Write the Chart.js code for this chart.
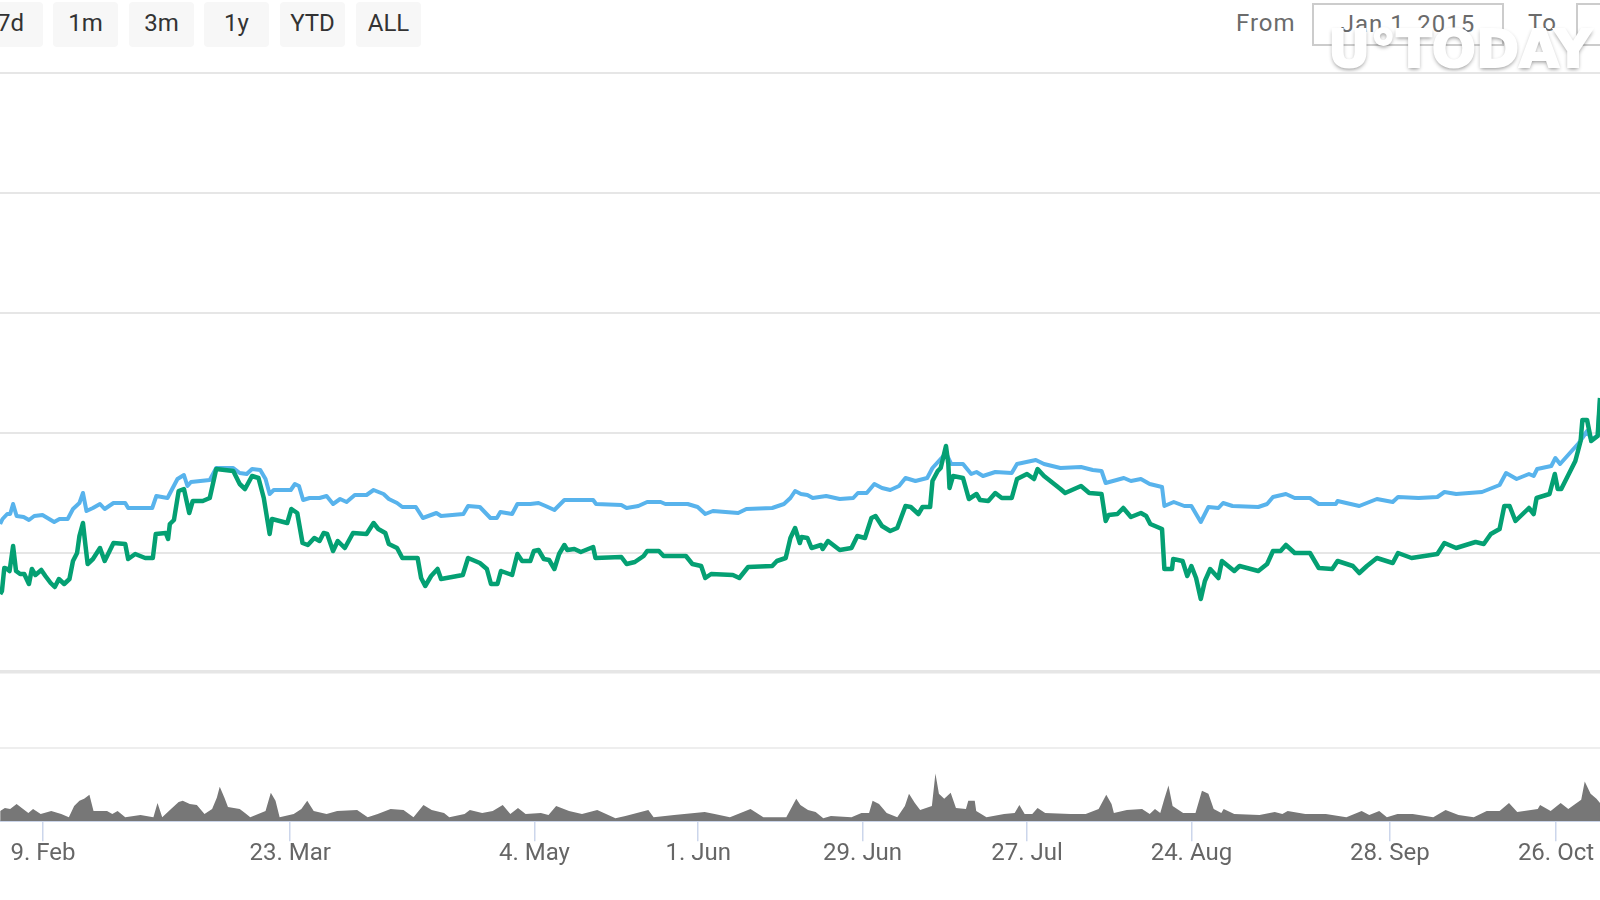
<!DOCTYPE html>
<html>
<head>
<meta charset="utf-8">
<title>chart</title>
<script src="https://cdn.jsdelivr.net/npm/chart.js@4"></script>
<style>
    body { margin: 0; background: #fff; font-family: Roboto, sans-serif; overflow: hidden; }
    canvas { position: absolute; left: 0; }
    #chartPreco { top: 61px; }
    #chartVolume { top: 736px; }
    .btn { position: absolute; top: 2px; width: 65px; height: 45px; line-height: 43px; background: #f7f7f7;
           border-radius: 4px; text-align: center; font-size: 24px; color: #333; }
    .lbl { position: absolute; top: 4px; font-size: 24px; line-height: 38px; color: #6b6b6b; letter-spacing: 1px; }
    .box { position: absolute; top: 3px; height: 39px; border: 2px solid #ccc; font-size: 24px; line-height: 38px;
           color: #6b6b6b; text-align: center; letter-spacing: 1px; }
    #marca { position: absolute; left: 1328px; top: 19px; font: bold 52px/60px "DejaVu Sans", sans-serif; color: #fff;
             -webkit-text-stroke: 2px #fff; text-shadow: 0 2px 4px rgba(0,0,0,.45); white-space: nowrap; }
</style>
</head>
<body>
<div class="btn" style="left:-22px">7d</div>
<div class="btn" style="left:53px">1m</div>
<div class="btn" style="left:129px">3m</div>
<div class="btn" style="left:204px">1y</div>
<div class="btn" style="left:280px">YTD</div>
<div class="btn" style="left:356px">ALL</div>
<div class="lbl" style="left:1236px">From</div>
<div class="box" style="left:1312px;width:188px">Jan 1, 2015</div>
<div class="lbl" style="left:1528px">To</div>
<div class="box" style="left:1576px;width:60px"></div>
<div id="marca">U°TODAY</div>
<canvas id="chartPreco" width="1600" height="624"></canvas>
<canvas id="chartVolume" width="1600" height="130"></canvas>
<script>
const tickDias = [40, 82.1, 123.7, 151.6, 179.6, 207.6, 235.6, 269.4, 297.7];
const tickTextos = ["9. Feb", "23. Mar", "4. May", "1. Jun", "29. Jun", "27. Jul", "24. Aug", "28. Sep", "26. Oct"];

const verdeDias = [32.7,33.0,33.4,33.9,34.3,34.9,35.4,36.1,36.8,37.6,38.1,38.7,39.7,40.4,41.3,42.0,42.7,43.6,44.5,45.1,45.8,46.2,46.8,47.2,47.6,48.5,49.7,50.5,52.0,54.0,54.5,55.7,57.4,58.7,59.2,60.9,61.3,61.6,62.3,63.1,64.0,64.9,65.5,67.2,68.4,69.5,72.4,73.5,74.4,75.6,76.7,77.6,78.6,79.0,81.6,82.3,83.3,84.2,85.1,86.2,87.1,87.8,88.4,89.4,90.2,91.4,92.8,95.1,96.3,97.1,98.3,98.9,100.3,101.2,103.8,104.4,105.1,106.1,107.2,107.8,111.5,112.4,114.4,115.6,116.3,117.4,118.0,119.9,120.8,121.6,
    123.0,123.6,124.4,125.3,126.2,127.1,127.9,128.8,129.3,130.5,131.6,133.7,134.1,138.5,139.4,140.8,142.3,142.9,144.9,145.7,149.5,150.6,152.1,152.8,153.8,157.5,158.6,160.1,164.2,165.0,166.5,167.3,168.1,168.9,169.2,170.2,170.9,172.5,172.8,173.7,175.7,177.7,178.7,180.0,181.1,181.8,182.9,184.3,185.5,186.9,187.8,189.1,189.8,191.1,191.5,192.4,192.9,193.8,194.2,194.4,195.0,196.7,197.7,199.0,199.6,201.0,202.2,203.3,205.0,205.9,207.6,208.8,209.4,210.5,213.3,
    214.1,216.8,218.2,220.3,221.0,221.5,223.0,224.0,225.3,227.0,227.9,228.6,230.6,231.0,232.3,232.5,234.1,234.9,235.6,236.4,237.2,237.9,238.8,240.2,240.8,242.9,243.8,247.0,248.5,249.5,250.8,251.7,253.2,255.8,257.3,259.6,260.5,263.1,264.2,265.5,267.2,269.9,270.8,273.1,277.5,278.7,280.7,284.0,285.4,286.6,288.1,288.9,289.8,290.8,293.1,293.9,294.4,296.6,297.5,298.0,298.6,301.0,301.9,302.2,303.0,303.7,304.8,305.2];
const verdeValores = [79,82,105,104,102,127,102,99,99,89,104,98,103,97,90,86,94,89,94,112,120,137,150,129,109,114,125,112,130,129,114,119,115,115,139,140,134,149,153,182,184,160,172,172,175,204,202,189,184,197,195,175,139,154,150,164,160,130,128,135,132,140,139,122,132,125,140,139,150,144,140,129,125,115,115,95,87,97,104,94,98,115,110,104,89,89,102,98,119,112,
    112,122,123,114,113,104,119,128,123,124,121,126,115,116,109,111,117,122,122,117,117,109,107,95,99,98,95,106,107,112,115,135,145,130,136,135,125,128,124,132,123,125,137,135,155,157,147,142,145,167,166,159,166,166,192,202,205,227,209,185,197,195,174,179,173,172,180,175,175,194,199,194,204,197,184,
    180,187,180,179,152,158,159,165,156,160,157,149,144,104,104,114,112,97,107,95,74,92,104,95,112,102,107,102,109,122,122,128,120,120,105,104,112,107,100,107,115,110,120,115,119,130,125,131,129,139,144,167,167,152,165,159,175,179,199,184,184,212,232,253,253,232,237,275];

const azulDias = [32.7,33.1,33.9,34.4,34.9,35.5,36.7,37.6,38.5,39.9,41.9,42.8,44.2,45.1,46.2,46.8,47.4,48.5,49.7,50.5,52.0,54.0,54.5,58.6,59.3,61.2,62.0,62.9,64.0,64.6,65.2,68.4,69.5,72.4,73.5,74.7,75.6,77.0,77.9,78.6,79.3,82.2,82.9,83.6,84.3,85.4,87.1,88.3,89.4,90.6,91.7,93.1,95.1,96.3,98.0,98.9,100.3,101.2,103.5,104.7,107.0,107.8,111.6,112.4,114.4,116.2,117.3,117.9,119.9,120.8,
    123.0,124.4,125.6,127.1,128.8,133.7,134.2,138.5,139.4,141.4,142.9,145.2,146.0,149.8,151.5,152.8,154.1,158.4,159.8,164.2,166.2,167.3,168.1,169.1,170.2,171.1,173.4,175.7,178.0,178.8,180.3,181.6,182.9,184.3,185.8,186.9,188.6,190.6,191.5,193.2,193.8,194.7,196.7,198.1,199.0,200.1,202.2,205.0,205.9,209.1,210.5,213.3,
    216.8,218.8,220.3,221.0,224.1,225.3,227.0,228.5,230.6,231.0,232.6,234.4,235.6,237.2,238.5,240.2,241.0,242.6,247.0,248.5,249.5,251.7,253.2,255.8,257.3,260.2,260.5,264.2,267.2,269.9,270.8,274.3,277.5,278.7,280.7,285.1,288.1,289.2,291.0,293.1,293.9,294.5,296.9,297.6,298.4,301.6,303.0,303.7,304.8,305.2];
const azulValores = [149,154,159,159,169,157,156,153,157,158,151,154,154,164,170,180,162,165,169,164,170,170,165,165,177,175,184,194,198,187,191,193,205,205,200,199,204,203,194,179,183,183,189,187,173,175,175,177,169,174,171,178,178,183,179,174,170,166,166,155,160,157,159,167,166,155,155,161,159,169,
    169,170,167,163,173,173,169,168,165,167,171,171,169,169,166,159,162,160,164,165,169,175,182,179,178,175,177,174,175,180,180,189,185,183,187,195,192,195,205,216,220,209,209,199,201,197,201,200,209,213,209,205,
    206,203,202,190,195,192,194,189,186,167,171,167,167,151,166,165,170,167,166,169,176,179,175,175,169,169,172,167,174,171,176,175,176,181,179,181,188,200,194,199,197,204,207,215,209,230,242,234,237,275];

const volumeDias = [32.7,33.5,34.4,35.5,36.6,37.5,38.3,39.6,41.4,43.1,44.4,45.3,46.2,47.0,47.9,48.6,50.9,51.8,52.7,54.0,56.6,58.8,59.5,60.3,61.8,63.1,63.8,65.0,66.2,67.5,68.8,69.6,70.1,70.9,71.5,73.5,74.4,75.3,77.9,78.8,79.6,80.3,82.7,84.0,85.0,86.1,88.3,90.1,93.5,95.3,97.0,99.2,101.4,103.1,104.8,106.2,108.3,109.2,111.8,112.7,114.8,116.6,118.3,119.6,120.9,122.2,124.8,126.1,127.4,129.6,131.8,134.4,137.5,139.2,143.1,144.0,147.5,152.7,154.4,157.0,160.5,162.7,166.6,168.3,
    169.0,170.3,171.6,172.9,174.2,177.7,179.4,180.7,181.3,182.4,183.7,185.5,186.8,187.5,188.5,189.4,191.4,192.0,192.6,193.5,194.6,195.5,197.2,197.6,198.7,198.95,200.7,203.7,205.5,206.3,207.2,208.5,209.4,210.7,215.0,217.6,219.8,221.1,222.0,222.4,224.6,227.2,228.5,229.4,230.3,231.0,231.7,232.4,234.2,236.3,237.4,238.5,239.4,240.7,241.1,242.9,247.2,249.8,251.1,252.0,255.0,258.5,262.0,264.6,265.9,267.6,268.9,270.7,273.3,276.8,278.9,281.1,283.7,285.9,288.1,289.7,291.1,294.6,295.0,296.8,298.5,299.8,302.0,302.6,303.6,304.6,305.2];
const volumeValores = [10,13,12,17,12,8,12,7,10,7,4,15,20,22,26,10,10,7,10,4,6,4,18,4,12,19,20,17,16,7,12,23,34,23,14,12,8,4,10,28,20,4,7,12,20,10,7,10,11,4,7,12,11,4,16,11,8,4,7,11,8,10,16,7,13,7,8,6,15,10,7,11,3,5,11,4,6,9,7,4,12,4,4,22,
    16,11,9,3,5,4,8,8,20,17,8,4,15,27,18,11,15,47,27,22,28,13,12,20,20,10,4,7,8,16,7,7,13,8,7,7,12,26,17,8,11,12,7,12,8,22,35,15,8,8,30,27,12,8,12,7,6,9,7,10,7,7,4,10,6,10,4,7,7,4,11,6,4,10,10,18,9,12,16,10,18,12,21,39,27,22,18];

const xMin = 32.67;
const xMax = 305.2;

function pares(xs, ys) {
    return xs.map((x, i) => ({ x: x, y: ys[i] }));
}

new Chart(document.getElementById("chartPreco"), {
    type: "line",
    data: {
        datasets: [
            { data: pares(verdeDias, verdeValores), borderColor: "#04a073", borderWidth: 4.5, borderJoinStyle: "round", pointRadius: 0, tension: 0 },
            { data: pares(azulDias, azulValores), borderColor: "#58b3ec", borderWidth: 4, borderJoinStyle: "round", pointRadius: 0, tension: 0 }
        ]
    },
    options: {
        responsive: false,
        animation: false,
        layout: { padding: { top: 12, bottom: 12, left: 0, right: 0 } },
        plugins: { legend: { display: false }, tooltip: { enabled: false } },
        scales: {
            x: { type: "linear", min: xMin, max: xMax, display: false },
            y: {
                min: 0,
                max: 600,
                afterBuildTicks: axis => { axis.ticks = [1, 120, 240, 360, 480, 600].map(v => ({ value: v })); },
                ticks: { display: false },
                border: { display: false },
                grid: {
                    drawTicks: false,
                    color: "#e6e6e6",
                    lineWidth: ctx => (ctx.tick && ctx.tick.value === 1 ? 3.5 : 2)
                }
            }
        }
    }
});

new Chart(document.getElementById("chartVolume"), {
    type: "line",
    data: {
        datasets: [
            { data: pares(volumeDias, volumeValores), borderWidth: 0, backgroundColor: "#777777", fill: "origin", pointRadius: 0, tension: 0 }
        ]
    },
    options: {
        responsive: false,
        animation: false,
        layout: { padding: { top: 12, left: 0, right: 0, bottom: 0 } },
        plugins: { legend: { display: false }, tooltip: { enabled: false } },
        scales: {
            x: {
                type: "linear",
                min: xMin,
                max: xMax,
                afterBuildTicks: axis => { axis.ticks = tickDias.map(v => ({ value: v })); },
                ticks: {
                    autoSkip: false,
                    maxRotation: 0,
                    color: "#666",
                    font: { family: "Roboto", size: 24 },
                    padding: -2,
                    callback: (v, i) => tickTextos[i]
                },
                border: { color: "#ccd6eb", width: 2 },
                grid: { drawOnChartArea: false, color: "#ccd6eb", lineWidth: 1.5, tickLength: 20 }
            },
            y: {
                min: 0,
                max: 72,
                afterBuildTicks: axis => { axis.ticks = [{ value: 72 }]; },
                ticks: { display: false },
                border: { display: false },
                grid: { drawTicks: false, color: "#eeeeee", lineWidth: 2 }
            }
        }
    }
});
</script>
</body>
</html>
